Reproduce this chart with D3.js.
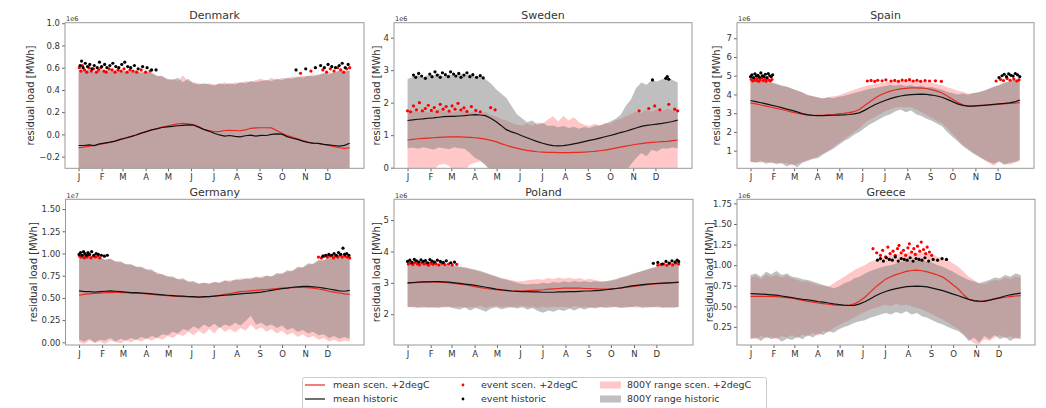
<!DOCTYPE html>
<html>
<head>
<meta charset="utf-8">
<script src="https://cdn.jsdelivr.net/npm/d3@7"></script>
<style>
body { margin: 0; background: #fff; }
svg text { font-family: "DejaVu Sans", sans-serif; fill: #333; }
</style>
</head>
<body>
<svg id="chart" width="1046" height="408"></svg>
<script>
// sample days (weekly) used by every series
const days = [0,7,14,21,28,35,42,49,56,63,70,77,84,91,98,105,112,119,126,133,140,147,154,161,168,175,182,189,196,203,210,217,224,231,238,245,252,259,266,273,280,287,294,301,308,315,322,329,336,343,350,357,364];
const months = ["J","F","M","A","M","J","J","A","S","O","N","D"];
const monthStart = [0,31,59,90,120,151,181,212,243,273,304,334];

// ---- Denmark (1e6 MWh)
const denmarkHiHist = [0.58,0.57,0.59,0.56,0.58,0.57,0.59,0.56,0.58,0.57,0.56,0.58,0.55,0.57,0.55,0.53,0.52,0.50,0.49,0.51,0.47,0.50,0.46,0.45,0.46,0.45,0.44,0.46,0.45,0.46,0.45,0.47,0.46,0.48,0.47,0.48,0.49,0.48,0.50,0.49,0.51,0.50,0.52,0.51,0.53,0.52,0.54,0.55,0.54,0.56,0.57,0.56,0.58];
const denmarkHiScen = [0.57,0.59,0.56,0.58,0.57,0.58,0.56,0.58,0.57,0.56,0.58,0.56,0.57,0.55,0.56,0.52,0.53,0.49,0.50,0.48,0.53,0.48,0.47,0.46,0.45,0.46,0.45,0.45,0.47,0.45,0.47,0.46,0.48,0.47,0.49,0.50,0.48,0.51,0.49,0.51,0.50,0.52,0.51,0.53,0.52,0.54,0.53,0.55,0.56,0.55,0.58,0.57,0.57];
const denmarkLoHist = [-0.4,-0.4,-0.4,-0.4,-0.4,-0.4,-0.4,-0.4,-0.4,-0.4,-0.4,-0.4,-0.4,-0.4,-0.4,-0.4,-0.4,-0.4,-0.4,-0.4,-0.4,-0.4,-0.4,-0.4,-0.4,-0.4,-0.4,-0.4,-0.4,-0.4,-0.4,-0.4,-0.4,-0.4,-0.4,-0.4,-0.4,-0.4,-0.4,-0.4,-0.4,-0.4,-0.4,-0.4,-0.4,-0.4,-0.4,-0.4,-0.4,-0.4,-0.4,-0.4,-0.4];
const denmarkLoScen = [-0.4,-0.4,-0.4,-0.4,-0.4,-0.4,-0.4,-0.4,-0.4,-0.4,-0.4,-0.4,-0.4,-0.4,-0.4,-0.4,-0.4,-0.4,-0.4,-0.4,-0.4,-0.4,-0.4,-0.4,-0.4,-0.4,-0.4,-0.4,-0.4,-0.4,-0.4,-0.4,-0.4,-0.4,-0.4,-0.4,-0.4,-0.4,-0.4,-0.4,-0.4,-0.4,-0.4,-0.4,-0.4,-0.4,-0.4,-0.4,-0.4,-0.4,-0.4,-0.4,-0.4];
const denmarkMeanHist = [-0.10,-0.10,-0.095,-0.10,-0.085,-0.078,-0.07,-0.06,-0.045,-0.032,-0.02,-0.005,0.012,0.025,0.04,0.05,0.062,0.068,0.072,0.078,0.082,0.085,0.084,0.065,0.045,0.03,0.01,-0.005,-0.015,-0.01,-0.018,-0.022,-0.012,-0.006,-0.015,-0.008,-0.01,0.0,0.005,0.002,-0.02,-0.035,-0.045,-0.06,-0.072,-0.078,-0.08,-0.09,-0.095,-0.1,-0.105,-0.098,-0.08];
const denmarkMeanScen = [-0.12,-0.115,-0.105,-0.1,-0.09,-0.08,-0.072,-0.06,-0.048,-0.035,-0.02,-0.008,0.01,0.025,0.04,0.053,0.065,0.075,0.085,0.095,0.1,0.095,0.088,0.07,0.045,0.035,0.025,0.025,0.035,0.037,0.035,0.033,0.04,0.055,0.058,0.06,0.06,0.058,0.035,0.01,-0.01,-0.025,-0.04,-0.055,-0.07,-0.08,-0.082,-0.09,-0.1,-0.11,-0.12,-0.125,-0.12];
const denmarkEventHist = [[2,0.62],[4,0.66],[6,0.6],[9,0.64],[12,0.61],[15,0.63],[18,0.59],[21,0.62],[25,0.6],[28,0.65],[31,0.61],[35,0.63],[38,0.6],[42,0.62],[46,0.64],[50,0.61],[54,0.6],[58,0.63],[62,0.65],[66,0.61],[70,0.6],[75,0.62],[80,0.59],[86,0.61],[92,0.6],[98,0.58],[104,0.58],[292,0.58],[305,0.59],[318,0.6],[325,0.62],[330,0.6],[335,0.63],[340,0.61],[345,0.6],[350,0.62],[354,0.64],[358,0.6],[362,0.63]];
const denmarkEventScen = [[1,0.6],[3,0.57],[5,0.62],[8,0.58],[11,0.56],[14,0.6],[17,0.57],[20,0.59],[24,0.56],[27,0.58],[30,0.6],[34,0.57],[37,0.56],[41,0.59],[45,0.58],[49,0.56],[53,0.58],[57,0.57],[61,0.59],[65,0.56],[69,0.58],[73,0.57],[78,0.56],[84,0.58],[90,0.56],[96,0.57],[298,0.55],[312,0.57],[328,0.58],[333,0.56],[338,0.59],[343,0.57],[348,0.6],[352,0.58],[356,0.56],[360,0.59],[364,0.6]];

// ---- Sweden (1e6 MWh)
const swedenHiHist = [2.72,2.8,2.85,2.78,2.86,2.82,2.9,2.8,2.87,2.83,2.9,2.84,2.88,2.8,2.82,2.72,2.6,2.42,2.28,2.15,1.9,1.65,1.52,1.4,1.45,1.32,1.38,1.28,1.3,1.24,1.28,1.22,1.26,1.2,1.25,1.22,1.28,1.3,1.34,1.42,1.5,1.62,1.9,2.1,2.45,2.62,2.55,2.7,2.65,2.72,2.78,2.7,2.62];
const swedenHiScen = [1.7,1.76,1.72,1.78,1.7,1.75,1.8,1.72,1.76,1.7,1.78,1.74,1.7,1.76,1.68,1.72,1.62,1.58,1.5,1.45,1.38,1.32,1.3,1.36,1.28,1.4,1.35,1.48,1.58,1.42,1.6,1.45,1.55,1.4,1.32,1.28,1.35,1.3,1.38,1.35,1.45,1.5,1.58,1.65,1.72,1.68,1.78,1.72,1.8,1.74,1.82,1.76,1.78];
const swedenLoHist = [0.6,0.62,0.58,0.63,0.6,0.55,0.62,0.6,0.57,0.63,0.6,0.58,0.45,0.3,0.22,0.08,-0.1,-0.1,-0.1,-0.1,-0.1,-0.1,-0.1,-0.1,-0.1,-0.1,-0.1,-0.1,-0.1,-0.1,-0.1,-0.1,-0.1,-0.1,-0.1,-0.1,-0.1,-0.1,-0.1,-0.1,-0.1,-0.1,-0.1,0.1,0.3,0.45,0.35,0.55,0.5,0.6,0.58,0.62,0.6];
const swedenLoScen = [-0.1,-0.1,-0.1,-0.1,-0.1,-0.1,0.08,0.12,0.05,-0.1,-0.1,-0.1,0.1,0.15,0.2,0.08,-0.1,-0.1,-0.1,-0.1,-0.1,-0.1,-0.1,-0.1,-0.1,-0.1,-0.1,-0.1,-0.1,-0.1,-0.1,-0.1,-0.1,-0.1,-0.1,-0.1,-0.1,-0.1,-0.1,-0.1,-0.1,-0.1,-0.1,-0.1,-0.1,-0.1,-0.1,-0.1,-0.1,-0.1,-0.1,-0.1,-0.1];
const swedenMeanHist = [1.45,1.47,1.49,1.5,1.52,1.53,1.55,1.57,1.58,1.58,1.59,1.6,1.62,1.63,1.62,1.6,1.52,1.42,1.3,1.17,1.1,1.05,0.98,0.92,0.86,0.8,0.75,0.71,0.68,0.67,0.68,0.7,0.73,0.76,0.8,0.84,0.87,0.91,0.95,0.99,1.03,1.08,1.12,1.17,1.22,1.27,1.3,1.32,1.34,1.36,1.39,1.42,1.46];
const swedenMeanScen = [0.85,0.87,0.89,0.9,0.91,0.92,0.93,0.94,0.95,0.95,0.95,0.94,0.93,0.92,0.9,0.88,0.84,0.8,0.74,0.69,0.64,0.6,0.56,0.53,0.51,0.49,0.48,0.47,0.47,0.46,0.46,0.46,0.47,0.47,0.48,0.49,0.5,0.52,0.54,0.57,0.6,0.63,0.66,0.69,0.72,0.74,0.76,0.78,0.79,0.8,0.81,0.83,0.85];
const swedenEventHist = [[8,2.85],[11,2.78],[15,2.9],[19,2.82],[24,2.75],[30,2.88],[33,2.8],[37,2.95],[40,2.85],[44,2.78],[47,2.92],[51,2.86],[55,2.8],[58,2.95],[62,2.88],[65,2.82],[69,2.9],[72,2.78],[76,2.85],[80,2.92],[84,2.8],[88,2.86],[93,2.78],[98,2.83],[102,2.76],[330,2.7],[348,2.75],[350,2.8],[352,2.72]];
const swedenEventScen = [[0,1.75],[4,1.72],[8,1.9],[12,1.78],[16,2.0],[20,1.75],[24,1.82],[28,1.92],[32,1.76],[36,1.85],[40,1.72],[44,1.95],[48,1.8],[52,1.88],[56,1.74],[60,1.9],[64,1.8],[68,1.98],[72,1.78],[76,1.84],[80,1.73],[86,1.88],[92,1.76],[98,1.72],[112,1.85],[118,1.78],[312,1.75],[325,1.82],[333,1.9],[340,1.78],[352,1.95],[360,1.8],[364,1.75]];

// ---- Spain (1e6 MWh)
const spainHiHist = [4.78,4.7,4.74,4.62,4.66,4.55,4.48,4.42,4.3,4.22,4.1,3.98,3.9,3.85,3.78,3.84,3.8,3.88,3.92,4.0,4.08,4.15,4.22,4.3,4.35,4.4,4.45,4.5,4.48,4.52,4.45,4.5,4.42,4.46,4.38,4.4,4.32,4.25,4.15,4.08,4.0,4.05,3.98,4.06,4.12,4.2,4.3,4.42,4.5,4.62,4.7,4.78,4.85];
const spainHiScen = [4.72,4.76,4.66,4.7,4.58,4.6,4.45,4.4,4.32,4.18,4.12,3.95,3.92,3.82,3.8,3.86,3.9,3.95,4.05,4.15,4.25,4.35,4.42,4.5,4.55,4.6,4.65,4.68,4.7,4.75,4.72,4.78,4.7,4.74,4.65,4.62,4.55,4.5,4.38,4.3,4.2,4.15,4.05,4.08,4.1,4.18,4.28,4.38,4.48,4.6,4.68,4.75,4.8];
const spainLoHist = [0.42,0.35,0.45,0.3,0.4,0.28,0.35,0.15,0.3,0.12,0.35,0.45,0.55,0.6,0.8,0.95,1.1,1.3,1.5,1.65,1.85,2.0,2.2,2.4,2.55,2.7,2.85,2.95,3.1,3.2,3.05,3.15,2.95,2.85,2.7,2.6,2.45,2.3,2.0,1.75,1.5,1.25,1.05,0.85,0.7,0.55,0.4,0.3,0.45,0.25,0.35,0.4,0.5];
const spainLoScen = [0.38,0.4,0.36,0.42,0.32,0.38,0.3,0.35,0.2,0.3,0.4,0.5,0.58,0.7,0.85,1.0,1.2,1.4,1.6,1.8,2.0,2.2,2.45,2.65,2.8,2.95,3.1,3.2,3.3,3.35,3.3,3.32,3.2,3.05,2.9,2.75,2.6,2.45,2.2,1.9,1.6,1.3,1.1,0.9,0.7,0.5,0.35,0.2,0.4,0.3,0.25,0.35,0.45];
const spainMeanHist = [3.68,3.62,3.56,3.5,3.43,3.37,3.3,3.22,3.15,3.07,2.98,2.92,2.88,2.87,2.87,2.88,2.89,2.9,2.91,2.93,2.96,3.02,3.15,3.3,3.45,3.57,3.68,3.78,3.86,3.92,3.96,3.99,4.01,4.02,4.0,3.97,3.92,3.85,3.74,3.62,3.5,3.42,3.38,3.38,3.4,3.42,3.44,3.47,3.5,3.52,3.55,3.6,3.7];
const spainMeanScen = [3.55,3.5,3.44,3.38,3.32,3.26,3.2,3.13,3.06,3.0,2.95,2.9,2.88,2.88,2.89,2.91,2.93,2.96,2.99,3.03,3.08,3.2,3.4,3.6,3.8,3.96,4.08,4.18,4.25,4.3,4.33,4.35,4.35,4.34,4.32,4.26,4.18,4.08,3.92,3.75,3.58,3.45,3.38,3.38,3.4,3.42,3.44,3.46,3.48,3.5,3.52,3.54,3.56];
const spainEventHist = [[0,4.95],[2,5.05],[4,4.9],[6,5.1],[8,4.98],[10,5.02],[12,4.92],[14,5.15],[16,5.0],[18,4.95],[20,5.08],[22,4.9],[24,5.12],[26,5.0],[28,4.95],[30,5.05],[336,4.9],[340,5.0],[343,5.08],[346,4.95],[349,5.1],[352,5.02],[355,4.98],[358,5.12],[361,5.05],[364,4.95]];
const spainEventScen = [[1,4.8],[3,4.72],[5,4.85],[7,4.75],[9,4.82],[11,4.7],[13,4.78],[15,4.88],[17,4.74],[19,4.8],[21,4.7],[23,4.84],[25,4.76],[27,4.72],[29,4.8],[158,4.72],[163,4.75],[168,4.7],[172,4.76],[178,4.73],[183,4.78],[190,4.72],[195,4.75],[200,4.7],[205,4.77],[210,4.74],[215,4.79],[220,4.72],[225,4.76],[230,4.7],[236,4.74],[242,4.72],[250,4.73],[258,4.7],[332,4.72],[338,4.8],[342,4.74],[347,4.85],[351,4.76],[356,4.82],[360,4.72],[363,4.78]];

// ---- Germany (1e7 MWh)
const germanyHiHist = [0.97,0.95,0.98,0.94,0.96,0.93,0.94,0.91,0.91,0.88,0.88,0.85,0.85,0.82,0.82,0.77,0.77,0.74,0.74,0.71,0.72,0.68,0.69,0.66,0.67,0.66,0.68,0.67,0.7,0.68,0.71,0.7,0.72,0.71,0.74,0.72,0.75,0.74,0.78,0.77,0.81,0.8,0.85,0.84,0.89,0.88,0.93,0.92,0.96,0.94,0.98,0.95,0.97];
const germanyHiScen = [0.96,0.97,0.95,0.96,0.95,0.93,0.94,0.91,0.9,0.88,0.87,0.85,0.84,0.82,0.8,0.79,0.76,0.74,0.73,0.71,0.7,0.69,0.67,0.66,0.67,0.66,0.68,0.67,0.69,0.7,0.7,0.72,0.71,0.73,0.72,0.74,0.75,0.74,0.76,0.78,0.79,0.81,0.83,0.85,0.87,0.89,0.91,0.93,0.94,0.95,0.96,0.97,0.96];
const germanyLoHist = [0.03,0.01,0.04,0.0,0.03,0.02,0.05,0.01,0.04,0.02,0.05,0.03,0.06,0.04,0.07,0.05,0.09,0.08,0.12,0.1,0.15,0.13,0.18,0.15,0.2,0.17,0.21,0.16,0.2,0.18,0.22,0.19,0.24,0.3,0.2,0.22,0.18,0.2,0.16,0.19,0.14,0.16,0.12,0.14,0.1,0.12,0.08,0.09,0.05,0.07,0.04,0.06,0.04];
const germanyLoScen = [0.0,-0.02,0.02,-0.01,0.01,-0.02,0.02,0.0,-0.01,0.02,0.0,0.03,0.01,0.04,0.02,0.05,0.03,0.07,0.05,0.09,0.07,0.12,0.08,0.13,0.09,0.15,0.1,0.17,0.12,0.15,0.11,0.16,0.13,0.2,0.14,0.17,0.12,0.15,0.1,0.13,0.08,0.11,0.06,0.09,0.05,0.07,0.03,0.05,0.01,0.03,0.0,0.02,0.01];
const germanyMeanHist = [0.58,0.57,0.57,0.565,0.57,0.575,0.58,0.575,0.57,0.565,0.56,0.56,0.555,0.55,0.545,0.54,0.535,0.53,0.525,0.52,0.52,0.515,0.515,0.51,0.515,0.515,0.52,0.525,0.53,0.535,0.54,0.545,0.55,0.555,0.56,0.565,0.575,0.585,0.595,0.605,0.61,0.62,0.625,0.63,0.63,0.625,0.62,0.61,0.6,0.59,0.58,0.575,0.585];
const germanyMeanScen = [0.53,0.54,0.545,0.55,0.555,0.56,0.56,0.565,0.56,0.56,0.555,0.55,0.55,0.545,0.54,0.535,0.53,0.525,0.52,0.52,0.515,0.515,0.51,0.51,0.51,0.515,0.52,0.53,0.54,0.55,0.56,0.57,0.575,0.58,0.585,0.59,0.595,0.6,0.605,0.61,0.612,0.615,0.617,0.618,0.615,0.61,0.6,0.59,0.575,0.565,0.555,0.545,0.54];
const germanyEventHist = [[0,0.99],[2,1.01],[4,0.98],[6,1.02],[8,1.0],[10,0.98],[12,1.01],[14,0.99],[17,1.02],[20,0.98],[23,1.0],[26,0.99],[30,0.98],[34,0.97],[38,0.98],[328,0.97],[332,0.98],[336,0.99],[340,0.98],[343,1.0],[346,0.98],[349,1.01],[352,0.99],[355,1.06],[357,0.99],[360,1.0],[363,0.98]];
const germanyEventScen = [[1,0.97],[3,0.96],[5,0.98],[7,0.95],[9,0.97],[11,0.96],[13,0.98],[16,0.95],[19,0.97],[22,0.96],[25,0.97],[28,0.95],[322,0.96],[326,0.95],[330,0.97],[334,0.96],[338,0.97],[342,0.95],[345,0.97],[348,0.96],[351,0.98],[354,0.96],[358,0.97],[361,0.96],[364,0.95]];

// ---- Poland (1e6 MWh)
const polandHiHist = [3.6,3.62,3.58,3.63,3.6,3.62,3.58,3.6,3.57,3.55,3.52,3.5,3.46,3.42,3.38,3.32,3.26,3.2,3.14,3.1,3.05,3.0,2.96,2.95,2.97,2.96,3.0,2.98,3.03,3.0,3.05,3.02,3.06,3.03,3.05,3.02,3.06,3.03,3.05,3.08,3.12,3.18,3.22,3.28,3.33,3.38,3.43,3.48,3.52,3.56,3.6,3.62,3.65];
const polandHiScen = [3.58,3.6,3.62,3.58,3.61,3.58,3.6,3.56,3.55,3.52,3.5,3.47,3.43,3.4,3.35,3.3,3.25,3.2,3.15,3.12,3.08,3.05,3.05,3.08,3.1,3.12,3.1,3.15,3.12,3.17,3.13,3.16,3.12,3.15,3.1,3.13,3.08,3.06,3.04,3.06,3.1,3.15,3.2,3.26,3.32,3.37,3.42,3.47,3.5,3.55,3.58,3.6,3.62];
const polandLoHist = [2.22,2.25,2.2,2.24,2.21,2.23,2.2,2.25,2.22,2.18,2.15,2.22,2.12,2.2,2.15,2.08,2.18,2.22,2.16,2.2,2.24,2.18,2.22,2.15,2.2,2.1,2.05,2.12,2.08,2.15,2.1,2.18,2.12,2.2,2.15,2.22,2.18,2.24,2.2,2.25,2.22,2.2,2.24,2.22,2.26,2.2,2.24,2.22,2.25,2.2,2.23,2.21,2.24];
const polandLoScen = [2.24,2.21,2.24,2.2,2.23,2.2,2.24,2.21,2.24,2.22,2.25,2.2,2.24,2.22,2.26,2.2,2.24,2.26,2.22,2.25,2.2,2.24,2.27,2.22,2.25,2.2,2.24,2.21,2.25,2.22,2.24,2.2,2.26,2.22,2.24,2.2,2.23,2.21,2.24,2.2,2.25,2.22,2.2,2.24,2.21,2.25,2.2,2.23,2.21,2.24,2.2,2.23,2.22];
const polandMeanHist = [3.0,3.01,3.02,3.03,3.03,3.04,3.04,3.03,3.02,3.0,2.98,2.96,2.94,2.92,2.89,2.86,2.83,2.8,2.78,2.76,2.74,2.73,2.72,2.72,2.71,2.71,2.7,2.7,2.7,2.71,2.71,2.72,2.72,2.73,2.74,2.74,2.75,2.76,2.78,2.8,2.82,2.84,2.87,2.9,2.92,2.94,2.96,2.97,2.98,2.99,3.0,3.01,3.02];
const polandMeanScen = [2.98,3.0,3.01,3.02,3.03,3.03,3.02,3.01,3.0,2.98,2.96,2.94,2.91,2.88,2.85,2.82,2.8,2.78,2.76,2.75,2.74,2.74,2.74,2.75,2.76,2.77,2.78,2.8,2.81,2.82,2.83,2.83,2.83,2.83,2.82,2.82,2.81,2.8,2.8,2.8,2.82,2.84,2.86,2.88,2.9,2.92,2.94,2.96,2.97,2.98,2.99,3.0,3.01];
const polandEventHist = [[0,3.68],[3,3.72],[6,3.65],[9,3.75],[12,3.7],[15,3.66],[18,3.73],[21,3.68],[24,3.71],[27,3.64],[30,3.74],[33,3.69],[36,3.66],[40,3.72],[44,3.68],[48,3.65],[52,3.7],[58,3.64],[63,3.66],[330,3.62],[336,3.65],[342,3.6],[347,3.68],[351,3.63],[355,3.7],[359,3.66],[362,3.72],[364,3.68]];
const polandEventScen = [[1,3.6],[4,3.63],[7,3.58],[10,3.65],[13,3.6],[16,3.57],[19,3.64],[22,3.6],[25,3.62],[28,3.56],[31,3.63],[34,3.59],[38,3.61],[42,3.57],[46,3.62],[50,3.58],[55,3.6],[60,3.57],[66,3.59],[336,3.56],[340,3.58],[344,3.6],[348,3.56],[352,3.62],[356,3.57],[360,3.63],[364,3.6]];

// ---- Greece (1e6 MWh)
const greeceHiHist = [0.88,0.9,0.86,0.92,0.89,0.93,0.88,0.9,0.86,0.85,0.83,0.82,0.8,0.78,0.76,0.74,0.72,0.74,0.78,0.8,0.84,0.86,0.9,0.93,0.95,0.97,0.99,1.0,1.02,1.04,1.05,1.06,1.05,1.06,1.04,1.03,1.0,0.98,0.95,0.92,0.88,0.85,0.82,0.8,0.78,0.8,0.82,0.85,0.84,0.88,0.86,0.9,0.88];
const greeceHiScen = [0.85,0.87,0.83,0.88,0.86,0.88,0.85,0.87,0.84,0.82,0.8,0.8,0.78,0.76,0.75,0.74,0.78,0.82,0.86,0.9,0.94,0.97,1.0,1.04,1.06,1.08,1.1,1.12,1.13,1.14,1.15,1.16,1.15,1.16,1.14,1.13,1.1,1.08,1.06,1.02,0.98,0.92,0.86,0.82,0.78,0.77,0.8,0.82,0.81,0.85,0.83,0.86,0.85];
const greeceLoHist = [0.1,0.12,0.08,0.13,0.1,0.12,0.07,0.11,0.09,0.13,0.1,0.15,0.12,0.17,0.15,0.2,0.18,0.22,0.25,0.27,0.3,0.32,0.33,0.36,0.38,0.4,0.42,0.4,0.43,0.41,0.44,0.4,0.42,0.38,0.36,0.33,0.3,0.28,0.25,0.22,0.2,0.15,0.08,0.12,0.06,0.14,0.1,0.15,0.1,0.13,0.08,0.12,0.1];
const greeceLoScen = [0.12,0.1,0.14,0.11,0.13,0.1,0.14,0.12,0.15,0.11,0.16,0.13,0.18,0.14,0.2,0.18,0.24,0.27,0.3,0.33,0.36,0.4,0.43,0.46,0.48,0.5,0.52,0.5,0.53,0.51,0.52,0.5,0.48,0.46,0.43,0.4,0.37,0.34,0.3,0.26,0.22,0.16,0.1,0.05,0.04,0.1,0.08,0.12,0.15,0.11,0.14,0.1,0.13];
const greeceMeanHist = [0.655,0.652,0.648,0.645,0.64,0.635,0.625,0.615,0.605,0.595,0.585,0.578,0.568,0.558,0.55,0.54,0.53,0.522,0.515,0.51,0.512,0.53,0.555,0.59,0.625,0.655,0.68,0.7,0.715,0.728,0.738,0.742,0.745,0.742,0.735,0.72,0.705,0.69,0.67,0.648,0.628,0.605,0.585,0.57,0.562,0.56,0.575,0.59,0.605,0.625,0.64,0.65,0.66];
const greeceMeanScen = [0.62,0.62,0.622,0.621,0.62,0.617,0.612,0.605,0.598,0.585,0.572,0.56,0.55,0.54,0.532,0.525,0.518,0.512,0.51,0.515,0.53,0.565,0.61,0.67,0.73,0.78,0.83,0.86,0.885,0.905,0.925,0.935,0.94,0.932,0.918,0.9,0.88,0.855,0.81,0.76,0.71,0.64,0.585,0.565,0.558,0.565,0.575,0.59,0.6,0.61,0.618,0.625,0.63];
const greeceEventHist = [[171,1.06],[175,1.08],[179,1.05],[183,1.09],[187,1.07],[191,1.06],[195,1.1],[199,1.05],[203,1.08],[207,1.07],[211,1.06],[215,1.09],[219,1.05],[223,1.08],[227,1.07],[231,1.06],[235,1.09],[240,1.05],[246,1.07],[252,1.06],[258,1.08],[264,1.07]];
const greeceEventScen = [[165,1.2],[170,1.15],[175,1.12],[178,1.18],[182,1.1],[185,1.22],[188,1.14],[192,1.17],[195,1.12],[198,1.2],[200,1.24],[203,1.15],[206,1.18],[209,1.12],[212,1.21],[214,1.26],[217,1.16],[220,1.2],[222,1.13],[225,1.23],[228,1.17],[230,1.28],[233,1.19],[236,1.14],[238,1.22],[241,1.16],[244,1.12]];

const legendLabels = ["mean scen. +2degC", "mean historic", "event scen. +2degC", "event historic", "800Y range scen. +2degC", "800Y range historic"];

var colScen = "#e8291f";
var colHist = "#111";
var fillScen = "rgba(255,0,0,0.22)";
var fillHist = "rgba(128,128,128,0.5)";

var svg = d3.select("#chart");

var panels = [
    { name: "Denmark", box: [65, 364, 22.7, 168.3], ylab: 34, dom: [-0.305, 1.005], ticks: [-0.2, 0, 0.2, 0.4, 0.6, 0.8, 1.0], fmt: d3.format(".1f"), off: "1e6",
      hiH: denmarkHiHist, loH: denmarkLoHist, hiS: denmarkHiScen, loS: denmarkLoScen, mH: denmarkMeanHist, mS: denmarkMeanScen, eH: denmarkEventHist, eS: denmarkEventScen },
    { name: "Sweden", box: [394, 692, 22.7, 168.3], ylab: 380, dom: [-0.02, 4.46], ticks: [0, 1, 2, 3, 4], fmt: d3.format("d"), off: "1e6",
      hiH: swedenHiHist, loH: swedenLoHist, hiS: swedenHiScen, loS: swedenLoScen, mH: swedenMeanHist, mS: swedenMeanScen, eH: swedenEventHist, eS: swedenEventScen },
    { name: "Spain", box: [737, 1034, 22.7, 168.3], ylab: 720, dom: [0.06, 7.83], ticks: [1, 2, 3, 4, 5, 6, 7], fmt: d3.format("d"), off: "1e6",
      hiH: spainHiHist, loH: spainLoHist, hiS: spainHiScen, loS: spainLoScen, mH: spainMeanHist, mS: spainMeanScen, eH: spainEventHist, eS: spainEventScen },
    { name: "Germany", box: [65.5, 364, 199.3, 345], ylab: 37, dom: [-0.03, 1.61], ticks: [0, 0.25, 0.5, 0.75, 1.0, 1.25, 1.5], fmt: d3.format(".2f"), off: "1e7",
      hiH: germanyHiHist, loH: germanyLoHist, hiS: germanyHiScen, loS: germanyLoScen, mH: germanyMeanHist, mS: germanyMeanScen, eH: germanyEventHist, eS: germanyEventScen },
    { name: "Poland", box: [394, 693, 199.3, 345], ylab: 380, dom: [1.02, 5.66], ticks: [2, 3, 4, 5], fmt: d3.format("d"), off: "1e6",
      hiH: polandHiHist, loH: polandLoHist, hiS: polandHiScen, loS: polandLoScen, mH: polandMeanHist, mS: polandMeanScen, eH: polandEventHist, eS: polandEventScen },
    { name: "Greece", box: [737, 1035, 199.3, 345], ylab: 713, dom: [0.03, 1.8], ticks: [0.25, 0.5, 0.75, 1.0, 1.25, 1.5, 1.75], fmt: d3.format(".2f"), off: "1e6",
      hiH: greeceHiHist, loH: greeceLoHist, hiS: greeceHiScen, loS: greeceLoScen, mH: greeceMeanHist, mS: greeceMeanScen, eH: greeceEventHist, eS: greeceEventScen }
];

function makePanel(p, k) {
    var left = p.box[0], right = p.box[1], top = p.box[2], bottom = p.box[3];
    // matplotlib style 5% margin around the 0..365 day range
    var x = d3.scaleLinear().domain([-18.25, 383.25]).range([left, right]);
    var y = d3.scaleLinear().domain(p.dom).range([bottom, top]);

    var g = svg.append("g");
    g.append("clipPath").attr("id", "clip" + k)
        .append("rect")
        .attr("x", left).attr("y", top)
        .attr("width", right - left).attr("height", bottom - top);

    var plot = g.append("g").attr("clip-path", "url(#clip" + k + ")");

    function band(hi, lo) {
        return d3.area()
            .x(function (d, i) { return x(days[i]); })
            .y0(function (d, i) { return y(lo[i]); })
            .y1(function (d, i) { return y(hi[i]); })(hi);
    }
    var line = d3.line()
        .x(function (d, i) { return x(days[i]); })
        .y(function (d) { return y(d); });

    plot.append("path").attr("d", band(p.hiS, p.loS)).attr("fill", fillScen);
    plot.append("path").attr("d", band(p.hiH, p.loH)).attr("fill", fillHist);

    plot.append("path").attr("d", line(p.mS)).attr("fill", "none")
        .attr("stroke", colScen).attr("stroke-width", 1.2);
    plot.append("path").attr("d", line(p.mH)).attr("fill", "none")
        .attr("stroke", colHist).attr("stroke-width", 1.2);

    plot.selectAll(".evS").data(p.eS).enter().append("circle")
        .attr("cx", function (d) { return x(d[0]); })
        .attr("cy", function (d) { return y(d[1]); })
        .attr("r", 1.6).attr("fill", "#f00");
    plot.selectAll(".evH").data(p.eH).enter().append("circle")
        .attr("cx", function (d) { return x(d[0]); })
        .attr("cy", function (d) { return y(d[1]); })
        .attr("r", 1.6).attr("fill", "#000");

    // axes
    var yAxis = g.append("g").attr("transform", "translate(" + left + ",0)")
        .call(d3.axisLeft(y).tickValues(p.ticks).tickFormat(p.fmt).tickSize(3).tickPadding(2));
    var xAxis = g.append("g").attr("transform", "translate(0," + bottom + ")")
        .call(d3.axisBottom(x).tickValues(monthStart)
            .tickFormat(function (d, i) { return months[i]; }).tickSize(3).tickPadding(3));
    [yAxis, xAxis].forEach(function (a) {
        a.select(".domain").remove();
        a.selectAll("line").attr("stroke", "#666");
        a.selectAll("text").style("font-size", "8.5px")
            .style("font-family", "DejaVu Sans").attr("fill", "#333");
    });

    g.append("rect")
        .attr("x", left).attr("y", top)
        .attr("width", right - left).attr("height", bottom - top)
        .attr("fill", "none").attr("stroke", "#999").attr("stroke-width", 1);

    g.append("text")
        .attr("x", (left + right) / 2).attr("y", top - 3.7)
        .attr("text-anchor", "middle")
        .style("font-size", "11px")
        .text(p.name);

    g.append("text")
        .attr("x", left + 1).attr("y", top - 1.5)
        .style("font-size", "6.5px")
        .text(p.off);

    g.append("text")
        .attr("transform", "translate(" + p.ylab + "," + (top + bottom) / 2 + ") rotate(-90)")
        .attr("text-anchor", "middle")
        .style("font-size", "10px")
        .text("residual load [MWh]");
}

panels.forEach(makePanel);

// Legend
var legend = svg.append("g");
legend.append("rect")
    .attr("x", 302.5).attr("y", 377.5)
    .attr("width", 464).attr("height", 36).attr("rx", 2)
    .attr("fill", "#fff").attr("stroke", "#ccc");

var rowY = [385, 399];
var colX = [305, 459, 600];
legendLabels.forEach(function (lab, i) {
    var c = Math.floor(i / 2), r = i % 2;
    var cy = rowY[r];
    if (c == 0) {
        legend.append("line")
            .attr("x1", colX[0]).attr("x2", colX[0] + 20)
            .attr("y1", cy).attr("y2", cy)
            .attr("stroke", r == 0 ? colScen : colHist).attr("stroke-width", 1.2);
    } else if (c == 1) {
        legend.append("circle")
            .attr("cx", colX[1] + 4).attr("cy", cy).attr("r", 1.4)
            .attr("fill", r == 0 ? "#f00" : "#000");
    } else {
        legend.append("rect")
            .attr("x", colX[2]).attr("y", cy - 3.5)
            .attr("width", 21).attr("height", 7)
            .attr("fill", r == 0 ? "rgb(255,199,199)" : "rgb(191,191,191)");
    }
    var tx = [333, 481, 627][c];
    legend.append("text")
        .attr("x", tx).attr("y", cy + 3.4)
        .style("font-size", "9.5px")
        .text(lab);
});
</script>
</body>
</html>
